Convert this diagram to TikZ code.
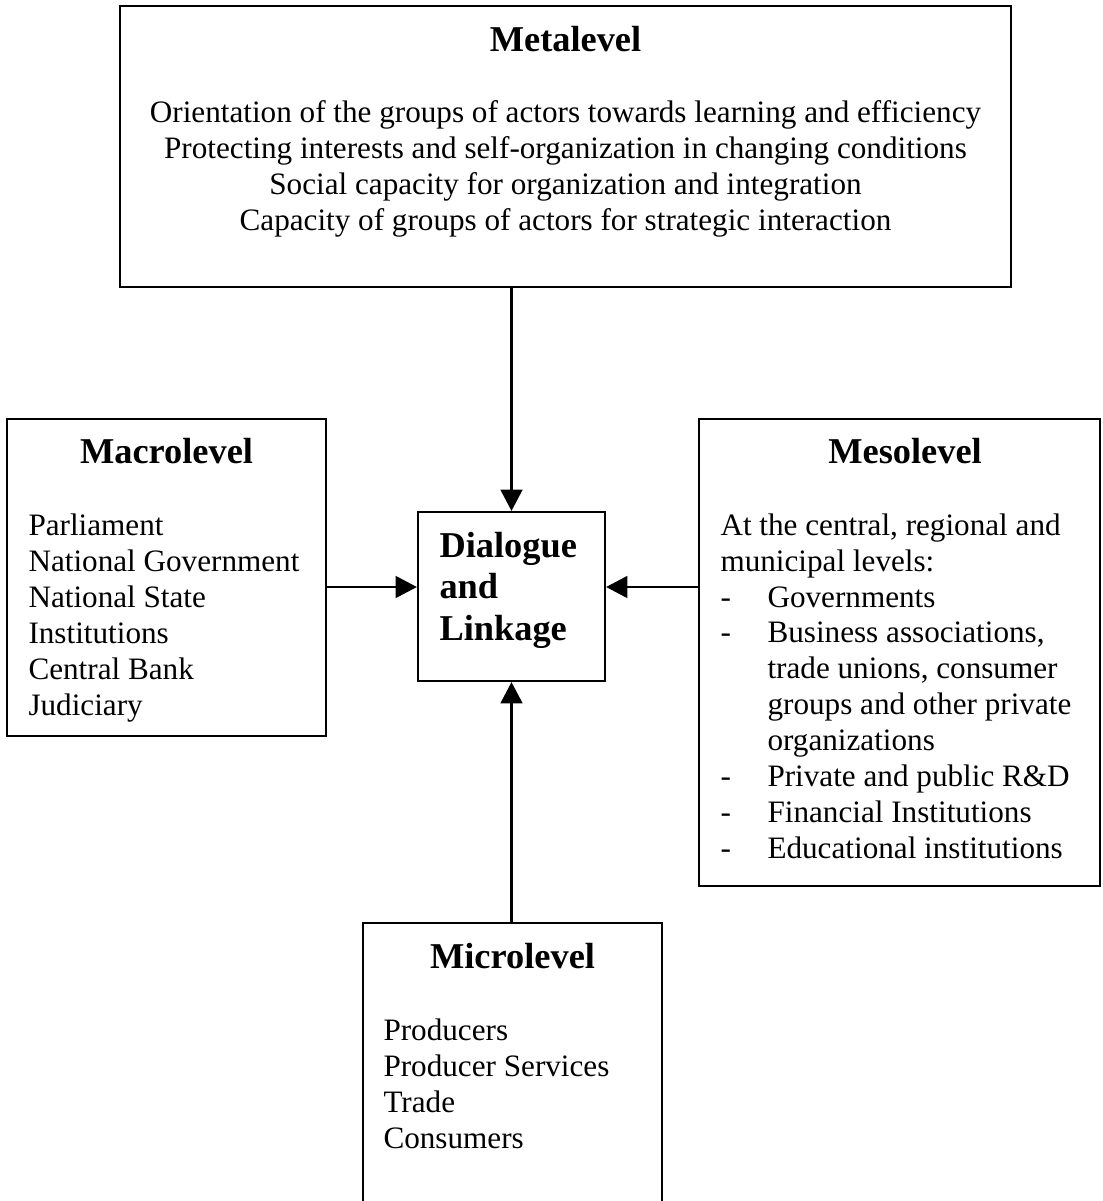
\documentclass[tikz,border=0pt]{standalone}
\usepackage{fontspec}
\setmainfont{Liberation Serif}
\usetikzlibrary{arrows.meta}

\newcommand\dashitem{\makebox[18.1pt][l]{-}}
\newcommand\dashgap{\hspace*{18.1pt}}

\begin{document}
\begin{tikzpicture}[
        %Environment Config
        x=0.385pt, y=-0.385pt,
        LevelBox/.style 2 args={%Style for the level boxes
            draw,
            rectangle,
            line width=0.85pt,
            inner sep=0pt,
            minimum width={#1*0.385pt},
            minimum height={#2*0.385pt}
        },
        Heading/.style={%Style for the box titles
            font=\fontsize{14}{16.1}\selectfont\bfseries,
            inner sep=0pt,
            anchor=base
        },
        BodyText/.style={%Style for the box contents (placed by its last line)
            font=\fontsize{12}{13.8}\selectfont,
            inner sep=0pt,
            align=left,
            anchor=base west
        },
        LinkArrow/.style={%Style for the connectors
            -{Triangle[length=8.2pt,width=8.4pt]},
            line width=0.9pt
        }
    ]
    \useasboundingbox (0,0) rectangle (1102,1201);

    %%%%%%%%%%%%%%%%%%%%%%%%%%%%%%%%%%%%%%%%%%%%%%%%%%%%%%%%%%%%%%%%%%%%%%%%%%%%
    % BOXES
    %%%%%%%%%%%%%%%%%%%%%%%%%%%%%%%%%%%%%%%%%%%%%%%%%%%%%%%%%%%%%%%%%%%%%%%%%%%%
    % upper box
    \node[LevelBox={891}{281}] (meta) at (565.5,146.5) {};
    \node[Heading] (metahead) at (565.5,52) {Metalevel};
    \node[BodyText, align=center, anchor=base] (metatext) at (565.5,230) {Orientation of the groups of actors towards learning and efficiency\\
        Protecting interests and self-organization in changing conditions\\
        Social capacity for organization and integration\\
        Capacity of groups of actors for strategic interaction};

    % left box
    \node[LevelBox={319}{317}] (macro) at (166.5,577.5) {};
    \node[Heading] (macrohead) at (166.5,463) {Macrolevel};
    \node[BodyText] (macrotext) at (28,715) {Parliament\\
        National Government\\
        National State\\
        Institutions\\
        Central Bank\\
        Judiciary};

    % middle box
    \node[LevelBox={187}{169}] (dialogue) at (511.5,596.5) {};
    \node[BodyText, font=\fontsize{14}{15.8}\selectfont\bfseries] (dialoguetext) at (439,640) {Dialogue\\
        and\\
        Linkage};

    % right box
    \node[LevelBox={401}{467}] (meso) at (899.5,652.5) {};
    \node[Heading] (mesohead) at (905,463) {Mesolevel};
    \node[BodyText] (mesotext) at (720,858) {At the central, regional and\\
        municipal levels:\\
        \dashitem Governments\\
        \dashitem Business associations,\\
        \dashgap trade unions, consumer\\
        \dashgap groups and other private\\
        \dashgap organizations\\
        \dashitem Private and public R\&D\\
        \dashitem Financial Institutions\\
        \dashitem Educational institutions};

    % lower box
    \node[LevelBox={299}{340}] (micro) at (512.5,1093) {};
    \node[Heading] (microhead) at (512.5,968) {Microlevel};
    \node[BodyText] (microtext) at (383,1148) {Producers\\
        Producer Services\\
        Trade\\
        Consumers};

    %%%%%%%%%%%%%%%%%%%%%%%%%%%%%%%%%%%%%%%%%%%%%%%%%%%%%%%%%%%%%%%%%%%%%%%%%%%%
    % CONNECTORS
    %%%%%%%%%%%%%%%%%%%%%%%%%%%%%%%%%%%%%%%%%%%%%%%%%%%%%%%%%%%%%%%%%%%%%%%%%%%%
    \coordinate (linkrow) at (0,587);
    \draw[LinkArrow] (dialogue.north |- meta.south) -- (dialogue.north);
    \draw[LinkArrow] (macro.east |- linkrow) -- (dialogue.west |- linkrow);
    \draw[LinkArrow] (meso.west |- linkrow) -- (dialogue.east |- linkrow);
    \draw[LinkArrow] (dialogue.south |- micro.north) -- (dialogue.south);
\end{tikzpicture}
\end{document}
